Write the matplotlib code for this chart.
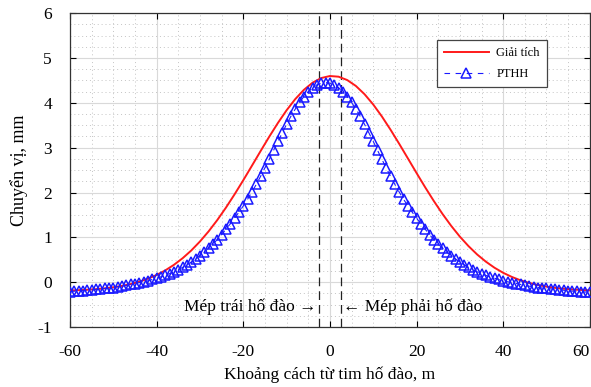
import matplotlib
matplotlib.use("Agg")
import matplotlib.pyplot as plt
from matplotlib.ticker import MultipleLocator

plt.rcParams['font.family'] = ['Liberation Serif', 'DejaVu Serif']
plt.rcParams['axes.unicode_minus'] = False

# Analytical solution (Giải tích), sampled every 2 m
x_gt = list(range(-60, 61, 2))
y_gt = [-0.185, -0.178, -0.169, -0.156, -0.138, -0.114, -0.083, -0.042, 0.011, 0.078,
        0.161, 0.263, 0.387, 0.534, 0.707, 0.907, 1.133, 1.385, 1.662, 1.960,
        2.273, 2.597, 2.924, 3.245, 3.551, 3.834, 4.083, 4.290, 4.449, 4.553,
        4.598, 4.583, 4.508, 4.376, 4.192, 3.963, 3.696, 3.400, 3.086, 2.761,
        2.435, 2.115, 1.809, 1.521, 1.256, 1.016, 0.804, 0.617, 0.458, 0.322,
        0.209, 0.117, 0.042, -0.017, -0.063, -0.099, -0.127, -0.147, -0.163, -0.174,
        -0.182]

# FEM results (PTHH), every 1 m
x_fem = list(range(-60, 61))
y_fem = [-0.21, -0.20, -0.20, -0.19, -0.18, -0.17, -0.16, -0.15, -0.14, -0.13,
         -0.12, -0.10, -0.09, -0.07, -0.05, -0.03, -0.01, 0.01, 0.03, 0.06,
         0.09, 0.12, 0.15, 0.19, 0.23, 0.28, 0.33, 0.39, 0.45, 0.52,
         0.59, 0.67, 0.76, 0.85, 0.95, 1.06, 1.18, 1.30, 1.43, 1.56,
         1.70, 1.85, 2.01, 2.18, 2.36, 2.55, 2.74, 2.94, 3.14, 3.33,
         3.52, 3.70, 3.86, 4.01, 4.14, 4.25, 4.34, 4.40, 4.44, 4.45,
         4.44, 4.40, 4.34, 4.25, 4.14, 4.01, 3.86, 3.70, 3.52, 3.33,
         3.14, 2.94, 2.74, 2.55, 2.36, 2.18, 2.01, 1.85, 1.70, 1.56,
         1.43, 1.30, 1.18, 1.06, 0.95, 0.85, 0.76, 0.67, 0.59, 0.52,
         0.45, 0.39, 0.33, 0.28, 0.23, 0.19, 0.15, 0.12, 0.09, 0.06,
         0.03, 0.01, -0.01, -0.03, -0.05, -0.07, -0.09, -0.10, -0.12, -0.13,
         -0.14, -0.15, -0.16, -0.17, -0.18, -0.19, -0.20, -0.20, -0.21, -0.22,
         -0.22]

edges = [-2.5, 2.5]
x_ticks = [-60, -40, -20, 0, 20, 40, 60]
y_ticks = [-1, 0, 1, 2, 3, 4, 5, 6]

fig = plt.figure(figsize=(5.91, 3.87), dpi=100)
ax = fig.add_axes([0.1184, 0.155, 0.8796, 0.811])

ax.set_xlim(-60, 60)
ax.set_ylim(-1, 6)
ax.set_xticks(x_ticks)
ax.set_yticks(y_ticks)
ax.xaxis.set_minor_locator(MultipleLocator(5))
ax.yaxis.set_minor_locator(MultipleLocator(0.25))
ax.grid(True, which='major', color='#d9d9d9', linestyle='-', linewidth=0.8)
ax.grid(True, which='minor', color='#c4c4c4', linestyle=(0, (1, 3)), linewidth=0.7)
ax.set_axisbelow(True)
ax.tick_params(which='both', direction='in', top=True, right=True, labelsize=12.5)
ax.tick_params(which='major', length=4, width=0.8)
ax.tick_params(axis='x', which='major', pad=12)
ax.tick_params(axis='y', which='major', pad=13)
ax.tick_params(which='minor', length=0)
for s in ax.spines.values():
    s.set_linewidth(0.9)
    s.set_color('#333333')

# last x tick label kept inside the figure as in the reference
xlabels = ax.get_xticklabels()
xlabels[-1].set_horizontalalignment('right')

for e in edges:
    ax.axvline(e, color='#222222', linestyle=(0, (7, 4)), linewidth=0.9, zorder=2)

ax.plot(x_gt, y_gt, color='#ff1a1a', linewidth=1.4, label='Giải tích', zorder=3)
ax.plot(x_fem, y_fem, color='#1a1aff', linestyle=(0, (5, 5)), linewidth=0.8,
        marker='^', markersize=7.5, markerfacecolor='none', markeredgewidth=1.1,
        markeredgecolor='#1a1aff', label='PTHH', zorder=4)

ax.text(-3.2, -0.55, 'Mép trái hố đào →', ha='right', va='center', fontsize=12.5)
ax.text(3.0, -0.55, '← Mép phải hố đào', ha='left', va='center', fontsize=12.5)

ax.set_xlabel('Khoảng cách từ tim hố đào, m', fontsize=12.5, labelpad=5)
ax.set_ylabel('Chuyển vị, mm', fontsize=13, labelpad=7)

leg = ax.legend(loc='upper right', bbox_to_anchor=(0.917, 0.914), fontsize=9,
                fancybox=False, framealpha=1, edgecolor='#444444',
                handlelength=3.6, borderpad=0.55, labelspacing=0.75,
                handletextpad=0.6, borderaxespad=0)
leg.get_frame().set_linewidth(0.9)

fig.savefig('out.png', dpi=100)
